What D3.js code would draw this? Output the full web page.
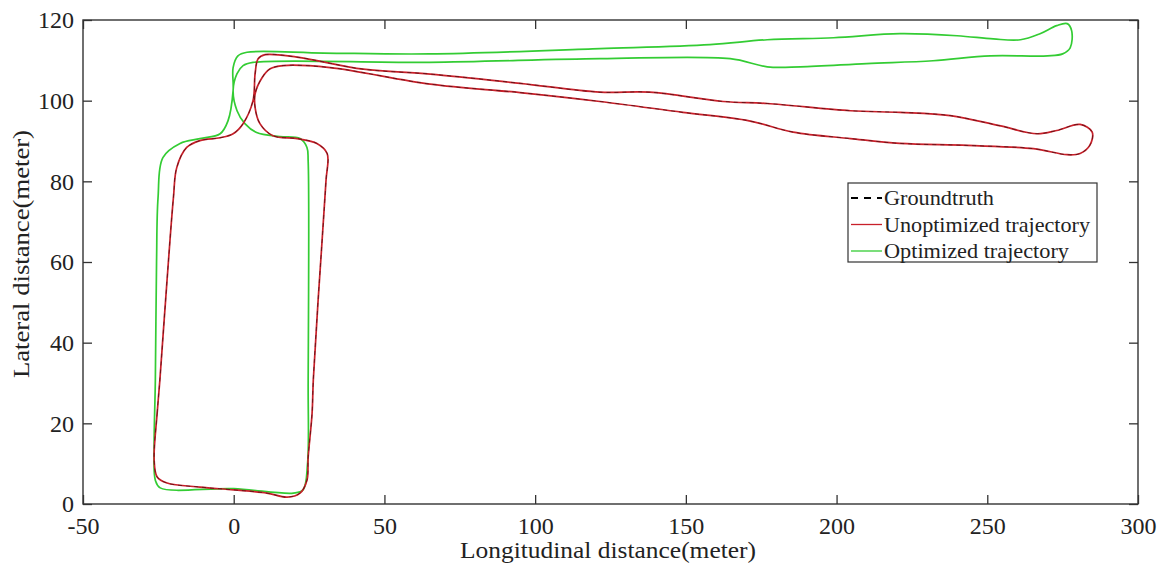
<!DOCTYPE html>
<html>
<head>
<meta charset="utf-8">
<script src="https://cdn.jsdelivr.net/npm/d3@7"></script>
<style>
  body { margin: 0; background: #fff; }
  svg text { font-family: "Liberation Serif", "Times New Roman", serif; fill: #222; }
</style>
</head>
<body>
<svg id="chart" width="1164" height="574"></svg>
<script>
// Axis ticks
var xTicks = [-50, 0, 50, 100, 150, 200, 250, 300];
var yTicks = [0, 20, 40, 60, 80, 100, 120];

// Unoptimized trajectory (closed loop)
var unoptX = [-26.4, -25.4, -24.5, -22.6, -20, -18.9, -15.6, -11.2, -4.5, -0.2, 3.1, 6.4, 7.1, 8.1, 10.4,
              21, 43, 65.2, 95, 121.5, 138, 162.4, 177, 204.6, 221, 237.7, 254, 266.5, 273, 280.8, 284.8,
              284, 280.8, 276.5, 265.3, 243.4, 221, 204.6, 185.6, 171, 149, 121.5, 95, 65.2, 32, 16.4,
              12.1, 9.4, 7.1, 7.1, 8.7, 13, 21, 27.6, 31, 30.6, 28, 26.4, 26, 24.7, 24.3, 22, 17.7, 11,
              0, -11.2, -22.1, -25.4];
var unoptY = [11, 22.5, 30.7, 50.5, 76, 83.4, 88.4, 90.1, 90.8, 91.8, 94.3, 100, 106.7, 110.4, 111.4,
              110.8, 107.8, 106.6, 104.3, 102.1, 102.1, 99.8, 99.3, 97.5, 97.1, 96.3, 93.8, 91.8, 92.6, 94.1, 92.2,
              88.9, 86.9, 86.6, 88.1, 88.9, 89.4, 90.6, 92.2, 95, 97.1, 99.8, 102, 104.1, 108.2, 108.7,
              107.9, 105.7, 101.7, 98.3, 94.3, 91.3, 90.6, 89.4, 86.9, 80, 50.5, 30.7, 22.5, 11.6, 5.9, 2.7, 1.7, 2.7,
              3.5, 4.2, 5.2, 6.7];

// Groundtruth (black dashes, visible along the unoptimized path)
var truthX = [-26.4, -25.4, -24.5, -22.6, -20, -18.9, -15.6, -11.2, -4.5, -0.2, 3.1, 6.4, 7.1, 8.1, 10.4,
              21, 43, 65.2, 95, 121.5, 138, 162.4, 177, 204.6, 221, 237.7, 254, 266.5, 273, 280.8, 284.8,
              284, 280.8, 276.5, 265.3, 243.4, 221, 204.6, 185.6, 171, 149, 121.5, 95, 65.2, 32, 16.4,
              12.1, 9.4, 7.1, 7.1, 8.7, 13, 21, 27.6, 31, 30.6, 28, 26.4, 26, 24.7, 24.3, 22, 17.7, 11,
              0, -11.2, -22.1, -25.4];
var truthY = [11, 22.5, 30.7, 50.5, 76, 83.4, 88.4, 90.1, 90.8, 91.8, 94.3, 100, 106.7, 110.4, 111.4,
              110.8, 107.8, 106.6, 104.3, 102.1, 102.1, 99.8, 99.3, 97.5, 97.1, 96.3, 93.8, 91.8, 92.6, 94.1, 92.2,
              88.9, 86.9, 86.6, 88.1, 88.9, 89.4, 90.6, 92.2, 95, 97.1, 99.8, 102, 104.1, 108.2, 108.7,
              107.9, 105.7, 101.7, 98.3, 94.3, 91.3, 90.6, 89.4, 86.9, 80, 50.5, 30.7, 22.5, 11.6, 5.9, 2.7, 1.7, 2.7,
              3.5, 4.2, 5.2, 6.7];

// Optimized trajectory (closed loop)
var optX = [-26.4, -26, -25.6, -25.1, -23.5, -17.8, -11.2, -4.5, -1.9, -0.2, -0.2, 1.4, 4.4, 30, 65,
            121.5, 158, 177, 199, 221, 240, 252, 261, 267.5, 273, 276.5, 278, 277.5, 275, 270, 251, 232,
            210, 188, 177, 164.7, 121.5, 65, 6.4, 3.1, 1.1, -0.2, 1.1, 3.7, 7.6, 15.3, 22, 24.3, 24.7,
            24.7, 24.5, 23, 19.8, 0, -24.4, -26];
var optY = [14, 30.7, 60, 76, 85.9, 89.4, 90.6, 91.8, 95, 102.5, 108.2, 111.1, 112, 111.8, 111.6,
            112.9, 113.9, 115.1, 115.6, 116.6, 116.1, 115.3, 115.1, 116.6, 118.6, 119.1, 117.3, 113.1, 111.6, 111.1, 111.1, 109.9,
            109.2, 108.4, 108.4, 110.4, 110.4, 109.5, 109.5, 108.7, 106.7, 102.5, 97.5, 94.3, 92.1, 91.1, 90.6, 88.4, 85,
            30, 10, 3.5, 2.7, 3.8, 4, 5.9];

var legendItems = [
    { label: "Groundtruth", color: "#000", dash: "7,6", len: 110 },
    { label: "Unoptimized trajectory", color: "#c8202a", dash: null, len: 206 },
    { label: "Optimized trajectory", color: "#33cc33", dash: null, len: 185 }
];

// Plot box (names avoid window.top etc.)
var boxL = 83, boxR = 1138, boxT = 20, boxB = 504;

var x = d3.scaleLinear().domain([-50, 300]).range([boxL, boxR]);
var y = d3.scaleLinear().domain([0, 120]).range([boxB, boxT]);

var svg = d3.select("#chart");

function zipPts(xs, ys) {
    return xs.map(function(v, i) { return [v, ys[i]]; });
}

var line = d3.line()
    .x(d => x(d[0]))
    .y(d => y(d[1]))
    .curve(d3.curveCatmullRomClosed.alpha(0.5));

// Trajectories
svg.append("path")
    .datum(zipPts(optX, optY))
    .attr("d", line)
    .style("fill", "none")
    .style("stroke", "#33cc33")
    .style("stroke-width", 1.7);

svg.append("path")
    .datum(zipPts(unoptX, unoptY))
    .attr("d", line)
    .style("fill", "none")
    .style("stroke", "#c8202a")
    .style("stroke-width", 1.7);

svg.append("path")
    .datum(zipPts(truthX, truthY))
    .attr("d", line)
    .style("fill", "none")
    .style("stroke", "#000")
    .style("stroke-opacity", 0.45)
    .style("stroke-width", 1)
    .style("stroke-dasharray", "4,4");

// Axes with inward ticks on all four sides
var axisColor = "#333";
var fmt = d => String(d);
function styleAxis(g) {
    g.select(".domain").remove();
    g.selectAll("line").style("stroke", axisColor).style("stroke-width", 1.3);
    g.selectAll("text").style("font-size", "24px").style("fill", "#222")
        .style("font-family", "'Liberation Serif', serif");
}

svg.append("g")
    .attr("transform", "translate(0," + boxB + ")")
    .call(d3.axisBottom(x).tickValues(xTicks).tickFormat(fmt).tickSizeInner(-9).tickSizeOuter(0).tickPadding(13))
    .call(styleAxis);

svg.append("g")
    .attr("transform", "translate(0," + boxT + ")")
    .call(d3.axisTop(x).tickValues(xTicks).tickSizeInner(-9).tickSizeOuter(0).tickFormat(""))
    .call(styleAxis);

svg.append("g")
    .attr("transform", "translate(" + boxL + ",0)")
    .call(d3.axisLeft(y).tickValues(yTicks).tickFormat(fmt).tickSizeInner(-9).tickSizeOuter(0).tickPadding(9))
    .call(styleAxis);

svg.append("g")
    .attr("transform", "translate(" + boxR + ",0)")
    .call(d3.axisRight(y).tickValues(yTicks).tickSizeInner(-9).tickSizeOuter(0).tickFormat(""))
    .call(styleAxis);

// Frame
svg.append("rect")
    .attr("x", boxL).attr("y", boxT)
    .attr("width", boxR - boxL).attr("height", boxB - boxT)
    .style("fill", "none")
    .style("stroke", axisColor)
    .style("stroke-width", 1.4);

// Axis titles
svg.append("text")
    .attr("x", 608)
    .attr("y", 558)
    .attr("text-anchor", "middle")
    .attr("textLength", 296)
    .attr("lengthAdjust", "spacingAndGlyphs")
    .style("font-size", "24px")
    .text("Longitudinal distance(meter)");

svg.append("text")
    .attr("transform", "rotate(-90)")
    .attr("x", -254)
    .attr("y", 29)
    .attr("text-anchor", "middle")
    .attr("textLength", 248)
    .attr("lengthAdjust", "spacingAndGlyphs")
    .style("font-size", "24px")
    .text("Lateral distance(meter)");

// Legend
var lg = svg.append("g").attr("transform", "translate(848,183)");
lg.append("rect")
    .attr("width", 249).attr("height", 79)
    .style("fill", "#fff")
    .style("stroke", axisColor)
    .style("stroke-width", 1.2);

var rows = lg.selectAll(".row")
    .data(legendItems)
    .enter().append("g")
    .attr("class", "row")
    .attr("transform", (d, i) => "translate(0," + (15 + i * 26.5) + ")");

rows.append("line")
    .attr("x1", 3).attr("x2", 34)
    .style("stroke", d => d.color)
    .style("stroke-width", d => d.dash ? 2.2 : 1.3)
    .style("stroke-dasharray", d => d.dash);

rows.append("text")
    .attr("x", 36)
    .attr("y", 7)
    .attr("textLength", d => d.len)
    .attr("lengthAdjust", "spacingAndGlyphs")
    .style("font-size", "22px")
    .text(d => d.label);
</script>
</body>
</html>
